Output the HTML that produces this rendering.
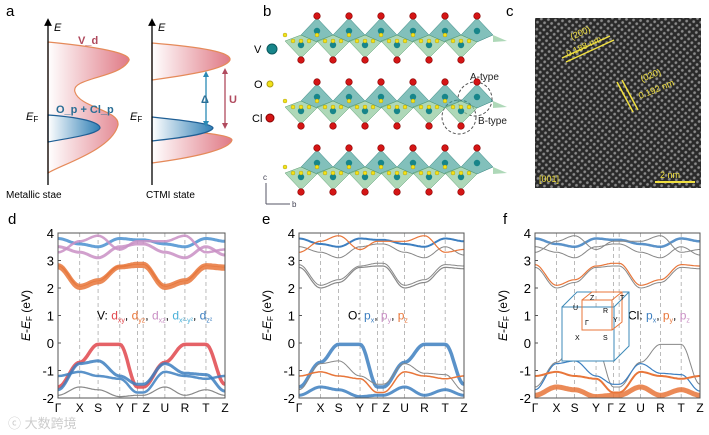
<!DOCTYPE html>
<html><head><meta charset="utf-8"><style>
html,body{margin:0;padding:0;background:#fff;}
svg{display:block;font-family:"Liberation Sans","Noto Sans CJK SC",sans-serif;}
</style></head><body>
<svg id="fig" width="709" height="435" viewBox="0 0 709 435">
<defs>
<linearGradient id="gr" x1="0" x2="1"><stop offset="0" stop-color="#fff"/><stop offset="1" stop-color="#e07a86"/></linearGradient>
<linearGradient id="gb" x1="0" x2="1"><stop offset="0" stop-color="#fff"/><stop offset="1" stop-color="#2f7fb5"/></linearGradient>
<pattern id="lat" width="5" height="5" patternUnits="userSpaceOnUse" patternTransform="rotate(-40)"><rect width="5" height="5" fill="#2a2a2a"/><circle cx="2.5" cy="2.5" r="1.4" fill="#8a8a8a"/></pattern>
<marker id="ar" markerWidth="6" markerHeight="6" refX="3" refY="3" orient="auto"><path d="M0,0L6,3L0,6z" fill="#000"/></marker>
</defs>
<g>
<text x="6" y="16" font-size="15">a</text>
<path d="M48,42 C110,48 135,55 128,62 C118,78 70,78 75,92 C80,108 120,110 118,125 C112,150 60,165 48,173 Z" fill="url(#gr)" stroke="#e58a5a" stroke-width="1.2"/>
<path d="M48,115 C90,118 100,124 100,128 C98,134 70,138 48,142 Z" fill="url(#gb)" stroke="#1f5f95" stroke-width="1.2"/>
<line x1="48" y1="185" x2="48" y2="22" stroke="#000" stroke-width="1.3" marker-end="url(#ar)"/>
<text x="54" y="31" font-size="11" font-style="italic">E</text>
<text x="78" y="44" font-size="11" font-weight="bold" fill="#b04a5e">V_d</text>
<text x="56" y="113" font-size="11" font-weight="bold" fill="#2a6e95">O_p + Cl_p</text>
<text x="26" y="120" font-size="11" font-style="italic">E<tspan font-size="8" font-style="normal" dy="2">F</tspan></text>
<text x="6" y="198" font-size="10">Metallic stae</text>
<path d="M152,43 C200,47 232,52 230,60 C226,70 180,76 152,80 Z" fill="url(#gr)" stroke="#e58a5a" stroke-width="1.2"/>
<path d="M152,128 C200,132 232,135 232,140 C230,150 190,158 152,163 Z" fill="url(#gr)" stroke="#e58a5a" stroke-width="1.2"/>
<path d="M152,117 C190,121 213,124 213,128 C211,134 180,138 152,141 Z" fill="url(#gb)" stroke="#1f5f95" stroke-width="1.2"/>
<line x1="152" y1="185" x2="152" y2="22" stroke="#000" stroke-width="1.3" marker-end="url(#ar)"/>
<text x="158" y="31" font-size="11" font-style="italic">E</text>
<text x="130" y="120" font-size="11" font-style="italic">E<tspan font-size="8" font-style="normal" dy="2">F</tspan></text>
<line x1="206" y1="74" x2="206" y2="124" stroke="#2a8ab5" stroke-width="1.3"/>
<path d="M203,77L206,71L209,77z M203,121L206,127L209,121z" fill="#2a8ab5"/>
<text x="201" y="103" font-size="11" font-weight="bold" fill="#2a6e95">Δ</text>
<line x1="225" y1="71" x2="225" y2="126" stroke="#b04a5e" stroke-width="1.3"/>
<path d="M222,74L225,68L228,74z M222,123L225,129L228,123z" fill="#b04a5e"/>
<text x="229" y="103" font-size="11" font-weight="bold" fill="#b04a5e">U</text>
<text x="146" y="198" font-size="10">CTMI state</text>
</g>
<g id="pb">
<text x="263" y="16" font-size="15">b</text>
<text x="254" y="53" font-size="11">V</text><circle cx="272" cy="49" r="5" fill="#17858a" stroke="#0b5a5e"/>
<text x="254" y="88" font-size="11">O</text><circle cx="270" cy="84" r="3" fill="#f2e21a" stroke="#b0a010"/>
<text x="252" y="122" font-size="11">Cl</text><circle cx="270" cy="118" r="4" fill="#d41515" stroke="#800"/>
<text x="470" y="80" font-size="10" fill="#222">A-type</text>
<text x="478" y="124" font-size="10" fill="#222">B-type</text>
<circle cx="475" cy="99" r="17" fill="none" stroke="#555" stroke-dasharray="3,2"/>
<circle cx="459" cy="117" r="17" fill="none" stroke="#555" stroke-dasharray="3,2"/>
<line x1="266" y1="204" x2="266" y2="183" stroke="#556" /><text x="263" y="180" font-size="8" fill="#445">c</text>
<line x1="266" y1="204" x2="290" y2="204" stroke="#556"/><text x="292" y="207" font-size="8" fill="#445">b</text>
</g>
<g>
<text x="506" y="16" font-size="15">c</text>
<rect x="535" y="18" width="166" height="170" fill="url(#lat)"/>
<line x1="562" y1="58" x2="610" y2="36" stroke="#f0e040" stroke-width="1.5"/>
<line x1="566" y1="62" x2="614" y2="40" stroke="#f0e040" stroke-width="1.5"/>
<text x="572" y="40" font-size="9" fill="#f0e040" transform="rotate(-25 572 40)">(200)</text>
<text x="568" y="57" font-size="9" fill="#f0e040" transform="rotate(-25 568 57)">0.188 nm</text>
<line x1="617" y1="82" x2="633" y2="112" stroke="#f0e040" stroke-width="1.5"/>
<line x1="622" y1="80" x2="638" y2="110" stroke="#f0e040" stroke-width="1.5"/>
<text x="642" y="82" font-size="9" fill="#f0e040" transform="rotate(-22 642 82)">(020)</text>
<text x="640" y="99" font-size="9" fill="#f0e040" transform="rotate(-22 640 99)">0.192 nm</text>
<text x="539" y="182" font-size="9" fill="#f0e040">[001]</text>
<text x="660" y="178" font-size="9" fill="#f0e040">2 nm</text>
<line x1="655" y1="182" x2="695" y2="182" stroke="#f0e040" stroke-width="2"/>
</g>
<g id="bands"></g>
<text x="8" y="428" font-size="13" fill="#ccc">ⓒ 大数跨境</text>
</svg>
<script>
const NS="http://www.w3.org/2000/svg";
function mk(p,t,a){const e=document.createElementNS(NS,t);for(const k in a)e.setAttribute(k,a[k]);p.appendChild(e);return e;}
const pb=document.getElementById('pb');
const rowCenters=[38,104,170];
const topX=[317,349,381,413,445,477];
rowCenters.forEach(cy=>{
  topX.forEach(x=>{
    mk(pb,'polygon',{points:`${x-16},${cy-3} ${x},${cy-20} ${x+16},${cy-3} ${x},${cy+4}`,fill:'#3f9e96','fill-opacity':0.65,stroke:'#2d7e78','stroke-width':0.5});
    mk(pb,'polygon',{points:`${x-32},${cy+3} ${x-16},${cy-3} ${x},${cy+4} ${x-16},${cy+20}`,fill:'#8cc79a','fill-opacity':0.7,stroke:'#5a9a70','stroke-width':0.5});
  });
  mk(pb,'polygon',{points:`${topX[5]+16},${cy-3} ${topX[5]+30},${cy+3} ${topX[5]+16},${cy+4}`,fill:'#8cc79a','fill-opacity':0.7});
  topX.forEach(x=>{
    mk(pb,'circle',{cx:x,cy:cy-7,r:3.2,fill:'#17858a'});
    mk(pb,'circle',{cx:x-16,cy:cy+7,r:3.2,fill:'#17858a'});
    mk(pb,'circle',{cx:x,cy:cy-22,r:3.3,fill:'#d41515',stroke:'#800','stroke-width':0.6});
    mk(pb,'circle',{cx:x-16,cy:cy+22,r:3.3,fill:'#d41515',stroke:'#800','stroke-width':0.6});
  });
  for(let i=0;i<12;i++){const x=285+i*16;
    mk(pb,'circle',{cx:x,cy:cy+(i%2?3:-3),r:2,fill:'#f2e21a',stroke:'#a09010','stroke-width':0.4});
    mk(pb,'circle',{cx:x+8,cy:cy+3,r:2,fill:'#f2e21a',stroke:'#a09010','stroke-width':0.4});}
});
const kLabels=["Γ","X","S","Y","Γ","Z","U","R","T","Z"];
const kPos=[0,0.13,0.24,0.37,0.476,0.51,0.64,0.76,0.886,1.0];
const yTicks=[4,3,2,1,0,-1,-2];
const bandV1=[-1.6,-0.7,-0.05,-0.05,-1.6,-1.6,-0.7,-0.05,-0.05,-1.5];
const bandV2=[-1.7,-0.75,-0.65,-1.2,-1.5,-1.5,-0.75,-1.1,-1.15,-1.75];
const bandV3=[-1.2,-1.05,-1.2,-1.3,-1.8,-1.8,-1.05,-1.2,-1.3,-1.2];
const bandV4=[-1.9,-1.6,-1.7,-1.95,-1.9,-1.9,-1.6,-1.9,-1.7,-1.9];
const bandC1=[2.75,2.0,2.2,2.75,2.8,2.8,2.0,2.2,2.75,2.7];
const bandC2=[2.85,2.1,2.3,2.8,2.9,2.9,2.1,2.3,2.85,2.8];
const bandC3=[3.5,3.3,3.1,3.5,3.6,3.6,3.3,3.1,3.5,3.2];
const bandC4=[3.8,3.6,3.5,3.8,3.75,3.75,3.6,3.5,3.8,3.7];
const bandC5=[3.3,3.7,3.9,3.4,3.7,3.7,3.7,3.9,3.3,3.4];
const bands=[bandV1,bandV2,bandV3,bandV4,bandC1,bandC2,bandC3,bandC4,bandC5];
const styleD=[['#e0474c',3.5],['#3d7fc0',3],['#3d7fc0',2.5],['#888',1.2],['#e8763a',4],['#e8763a',3],['#c98fc4',3],['#4a90d0',3],['#c98fc4',2.5]];
const styleE=[['#3d7fc0',3.5],['#888',1],['#e8763a',1.5],['#3d7fc0',3],['#888',1.2],['#888',1],['#888',1],['#3d7fc0',2],['#e8763a',1.2]];
const styleF=[['#888',1],['#3d7fc0',1.2],['#e8763a',2],['#e8763a',5],['#888',1],['#e8763a',1.2],['#888',1],['#3d7fc0',2.5],['#888',1]];
const panels=[{x0:58,x1:225,lab:'d',lx:8,styles:styleD},{x0:299,x1:464,lab:'e',lx:262,styles:styleE},{x0:535,x1:700,lab:'f',lx:503,styles:styleF}];
const y0=233,y1=398;
const g=document.getElementById('bands');
panels.forEach((p,pi)=>{
  const X=k=>p.x0+k*(p.x1-p.x0), Y=e=>y1-(e+2)/6*(y1-y0);
  const pg=mk(g,'g',{});
  
  
  const t=mk(pg,'text',{x:p.lx,y:224,'font-size':15});t.textContent=p.lab;
  const cp=mk(pg,'clipPath',{id:'cp'+pi});mk(cp,'rect',{x:p.x0,y:y0,width:p.x1-p.x0,height:y1-y0});
  kPos.forEach((k,i)=>{ if(i>0&&i<9){mk(pg,'line',{x1:X(k),x2:X(k),y1:y0,y2:y1,stroke:'#aaa','stroke-dasharray':'4,3','stroke-width':0.8});}
    const tx=mk(pg,'text',{x:X(k)+(i==4?-3:i==5?3:0),y:y1+14,'font-size':12,'text-anchor':'middle'});tx.textContent=kLabels[i];
    });
  const bg=mk(pg,'g',{'clip-path':`url(#cp${pi})`});
  bands.forEach((b,bi)=>{
    let d='';
    for(let i=0;i<b.length-1;i++){for(let s=0;s<=12;s++){const u=s/12,w=(1-Math.cos(Math.PI*u))/2;
      const k=kPos[i]+(kPos[i+1]-kPos[i])*u,e=b[i]+(b[i+1]-b[i])*w;d+=(d?'L':'M')+X(k).toFixed(1)+','+Y(e).toFixed(1);}}
    const st=p.styles[bi];
    const path=mk(bg,'path',{d:d,fill:'none',stroke:st[0],'stroke-width':st[1],'stroke-opacity':st[1]>2?0.85:1});
    
    
  });
  mk(pg,'rect',{x:p.x0,y:y0,width:p.x1-p.x0,height:y1-y0,fill:'none',stroke:'#555','stroke-width':1});
  yTicks.forEach(v=>{mk(pg,'line',{x1:p.x0,x2:p.x0+3,y1:Y(v),y2:Y(v),stroke:'#555'});
    const tt=mk(pg,'text',{x:p.x0-4,y:Y(v)+5,'font-size':13,'text-anchor':'end'});tt.textContent=v;
    });
  const yt=mk(pg,'text',{x:p.x0-28,y:(y0+y1)/2,'font-size':12,'text-anchor':'middle',transform:`rotate(-90 ${p.x0-28} ${(y0+y1)/2})`});
  yt.innerHTML='<tspan font-style="italic">E</tspan>-<tspan font-style="italic">E</tspan><tspan font-size="8" dy="2">F</tspan><tspan dy="-2"> (eV)</tspan>';
  
  const lg=mk(pg,'text',{y:Y(1)+4,'font-size':12});
  
  if(pi==0){lg.setAttribute('x',97);lg.innerHTML='V: <tspan fill="#e0474c">d<tspan font-size="7" dy="3">xy</tspan></tspan><tspan dy="-3">, </tspan><tspan fill="#e8763a">d<tspan font-size="7" dy="3">yz</tspan></tspan><tspan dy="-3">, </tspan><tspan fill="#c98fc4">d<tspan font-size="7" dy="3">xz</tspan></tspan><tspan dy="-3">, </tspan><tspan fill="#4ab0d8">d<tspan font-size="7" dy="3">x²-y²</tspan></tspan><tspan dy="-3">, </tspan><tspan fill="#3d7fc0">d<tspan font-size="7" dy="3">z²</tspan></tspan>';}
  else if(pi==1){lg.setAttribute('x',348);lg.innerHTML='O: <tspan fill="#3d7fc0">p<tspan font-size="7" dy="3">x</tspan></tspan><tspan dy="-3">, </tspan><tspan fill="#c98fc4">p<tspan font-size="7" dy="3">y</tspan></tspan><tspan dy="-3">, </tspan><tspan fill="#e8763a">p<tspan font-size="7" dy="3">z</tspan></tspan>';}
  else{lg.setAttribute('x',628);lg.innerHTML='Cl: <tspan fill="#3d7fc0">p<tspan font-size="7" dy="3">x</tspan></tspan><tspan dy="-3">, </tspan><tspan fill="#e8763a">p<tspan font-size="7" dy="3">y</tspan></tspan><tspan dy="-3">, </tspan><tspan fill="#c98fc4">p<tspan font-size="7" dy="3">z</tspan></tspan>';}
  if(pi==2){
    const bz=mk(pg,'g',{});
    mk(bz,'rect',{x:562,y:307,width:52,height:54,fill:'#fff',stroke:'#3d8ab8','stroke-width':1});
    mk(bz,'path',{d:'M562,307L577,292L629,292L629,346L614,361M614,307L629,292',fill:'none',stroke:'#3d8ab8'});
    mk(bz,'rect',{x:582,y:300,width:30,height:30,fill:'none',stroke:'#e8763a'});
    mk(bz,'path',{d:'M582,300L592,292L622,292L622,322L612,330M612,300L622,292',fill:'none',stroke:'#e8763a'});
    [['Z',590,300],['T',620,300],['U',573,310],['R',603,313],['Γ',585,325],['Y',613,322],['X',575,340],['S',603,340]].forEach(a=>{const t=mk(bz,'text',{x:a[1],y:a[2],'font-size':7});t.textContent=a[0];});
  }
});
</script>
</body></html>
